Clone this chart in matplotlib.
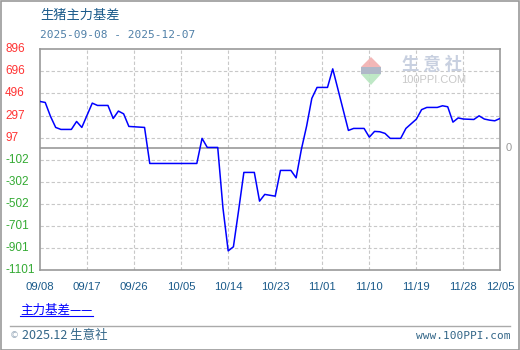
import matplotlib
matplotlib.use("Agg")
import matplotlib.pyplot as plt
import matplotlib.dates as mdates
from matplotlib.patches import Rectangle, Polygon
import numpy as np
import datetime as dt

plt.rcParams['font.family'] = ['Noto Sans CJK SC', 'DejaVu Sans']

title = "生猪主力基差"
subtitle = "2025-09-08 - 2025-12-07"
series_name = "主力基差"

dates = ["2025-09-08", "2025-09-09", "2025-09-10", "2025-09-11", "2025-09-12", "2025-09-14",
         "2025-09-15", "2025-09-16", "2025-09-18", "2025-09-19", "2025-09-21",
         "2025-09-22", "2025-09-23", "2025-09-24", "2025-09-25", "2025-09-28",
         "2025-09-29", "2025-10-08", "2025-10-09", "2025-10-10", "2025-10-12",
         "2025-10-13", "2025-10-14", "2025-10-15", "2025-10-16", "2025-10-17", "2025-10-19",
         "2025-10-20", "2025-10-21", "2025-10-23", "2025-10-24", "2025-10-26", "2025-10-27",
         "2025-10-28", "2025-10-29", "2025-10-30", "2025-10-31", "2025-11-02",
         "2025-11-03", "2025-11-04", "2025-11-05", "2025-11-06", "2025-11-07", "2025-11-09",
         "2025-11-10", "2025-11-11", "2025-11-12", "2025-11-13", "2025-11-14", "2025-11-16",
         "2025-11-17", "2025-11-18", "2025-11-19", "2025-11-20", "2025-11-21", "2025-11-23",
         "2025-11-24", "2025-11-25", "2025-11-26", "2025-11-27", "2025-11-28", "2025-11-30",
         "2025-12-01", "2025-12-02", "2025-12-03", "2025-12-04", "2025-12-05"]
values = [424, 415, 290, 189, 171, 171,
          243, 189, 409, 388, 388,
          270, 337, 312, 198, 189,
          -137, -137, 90, 8, 8,
          -540, -928, -891, -560, -218, -218,
          -478, -417, -433, -200, -200, -267,
          -10, 200, 452, 551, 551,
          719, 534, 348, 162, 180, 180,
          101, 153, 150, 135, 90, 90,
          180, 222, 264, 350, 370, 370,
          385, 376, 237, 275, 265, 261,
          294, 265, 255, 249, 270]

y_ticks = [-1101, -901.3, -701.6, -501.9, -302.2, -102.5, 97.2, 296.9, 496.6, 696.3, 896]
y_labels = ["-1101", "-901", "-701", "-502", "-302", "-102", "97", "297", "496", "696", "896"]
x_ticks = ["2025-09-08", "2025-09-17", "2025-09-26", "2025-10-05", "2025-10-14", "2025-10-23",
           "2025-11-01", "2025-11-10", "2025-11-19", "2025-11-28", "2025-12-05"]
x_labels = ["09/08", "09/17", "09/26", "10/05", "10/14", "10/23",
            "11/01", "11/10", "11/19", "11/28", "12/05"]

W, H = 520, 350
fig = plt.figure(figsize=(W / 100, H / 100), dpi=100)
fig.patch.set_facecolor("white")

def fx(px):
    return px / W

def fy(py):
    return 1 - py / H

ax = fig.add_axes([fx(40), fy(270), fx(460), (270 - 49.3) / H])

d = [dt.datetime.strptime(s, "%Y-%m-%d") for s in dates]
xt = [dt.datetime.strptime(s, "%Y-%m-%d") for s in x_ticks]

ax.plot(d, values, color="#0000ff", lw=1.1, zorder=3)
ax.set_xlim(xt[0], xt[-1])
ax.set_ylim(y_ticks[0], y_ticks[-1])

for t in y_ticks[1:-1]:
    ax.axhline(t, color="#c8c8c8", lw=0.8, ls=(0, (3, 2)), zorder=1)
for t in xt[1:-1]:
    ax.axvline(t, color="#c8c8c8", lw=0.8, ls=(0, (3, 2)), zorder=1)
ax.axhline(0, color="#999999", lw=1.2, zorder=2)

for s in ax.spines.values():
    s.set_color("#999999")
    s.set_linewidth(1.2)
ax.set_xticks([])
ax.set_yticks([])

# y labels
for t, lab in zip(y_ticks, y_labels):
    col = "#ff3333" if t > 0 else "#33aa33"
    ax.annotate(lab, xy=(0, t), xycoords=("axes fraction", "data"),
                xytext=(5, 0), textcoords=("figure pixels", "offset points"),
                ha="left", va="center", fontsize=8.5, color=col, family="Liberation Sans")
ax.annotate("0", xy=(1, 0), xycoords=("axes fraction", "data"),
            xytext=(4, 0), textcoords="offset points",
            ha="left", va="center", fontsize=8, color="#999999", family="Liberation Sans")

# x labels
for t, lab in zip(xt, x_labels):
    ax.annotate(lab, xy=(t, 0), xycoords=("data", "axes fraction"),
                xytext=(0, -16.7 * 0.72), textcoords="offset points",
                ha="center", va="center", fontsize=8.2, color="#1a5a8a", family="Liberation Sans")

# title
fig.text(fx(40), fy(15), title, fontsize=9.5, color="#1a5a8a", ha="left", va="center")
fig.text(fx(40), fy(35), subtitle, fontsize=8, color="#5080a8", ha="left", va="center",
         family="DejaVu Sans Mono")

# legend
fig.text(fx(20), fy(310.5), series_name + "——", fontsize=9, color="#0000ff", ha="left", va="center",
         family=["Noto Sans CJK SC", "DejaVu Sans"])
fig.add_artist(plt.Line2D([fx(20), fx(93)], [fy(315.5), fy(315.5)], color="#0000ff", lw=0.8))

# footer
fig.add_artist(plt.Line2D([fx(10), fx(510)], [fy(325.5), fy(325.5)], color="#aaaaaa", lw=1))
fig.text(fx(10), fy(335.5), "©", fontsize=6.5, color="#99aabb", ha="left", va="center",
         family="DejaVu Sans")
fig.text(fx(22), fy(335.5), "2025.12 生意社", fontsize=9, color="#336688", ha="left", va="center",
         family=["Noto Sans CJK SC", "DejaVu Sans"])
fig.text(fx(510), fy(336), "www.100PPI.com", fontsize=8, color="#336688", ha="right", va="center",
         family="DejaVu Sans Mono")

# watermark logo
fig.add_artist(Polygon([[fx(371), fy(57)], [fx(381), fy(67)], [fx(361), fy(67)]], closed=True,
                       facecolor="#f2b0b0", edgecolor="none", alpha=0.9))
fig.add_artist(Polygon([[fx(361), fy(74)], [fx(381), fy(74)], [fx(371), fy(85)]], closed=True,
                       facecolor="#b8e6c0", edgecolor="none", alpha=0.9))
fig.add_artist(Rectangle((fx(361), fy(74)), fx(20), 7 / H, facecolor="#b0b8c8", edgecolor="none"))
fig.text(fx(402), fy(65), "生 意 社", fontsize=12.5, color="#c8d0e0", ha="left", va="center",
         fontweight="bold")
fig.text(fx(401), fy(80), "100PPI.COM", fontsize=8, color="#c8c8c8", ha="left", va="center",
         family="Liberation Sans")

# outer border
fig.add_artist(Rectangle((0.5 / W, 0.5 / H), 1 - 1.5 / W, 1 - 1.5 / H, transform=fig.transFigure,
                         facecolor="none", edgecolor="#999999", lw=1.2))

fig.savefig("out.png", dpi=100, facecolor="white")
